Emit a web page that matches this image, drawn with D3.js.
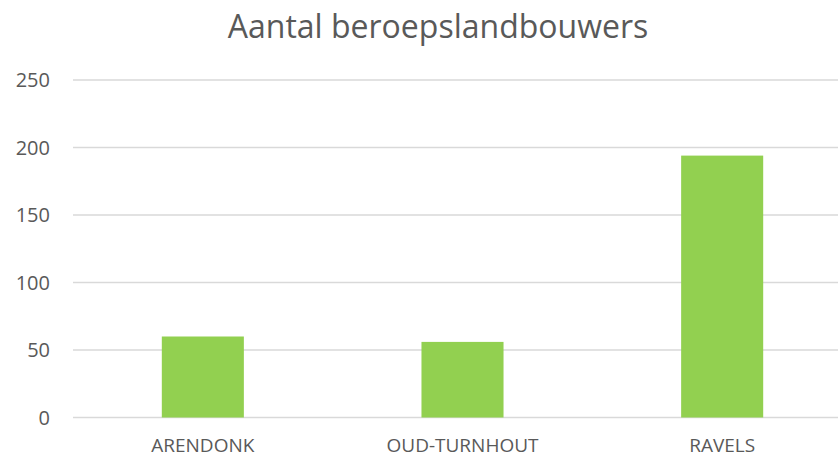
<!DOCTYPE html>
<html>
<head>
<meta charset="utf-8">
<script src="https://cdn.jsdelivr.net/npm/d3@7"></script>
<style>
  body { margin: 0; background: #fff; }
  text { font-family: "Open Sans", "Liberation Sans", sans-serif; fill: #595959; }
</style>
</head>
<body>
<div id="chart"></div>
<script>
const categories = ["ARENDONK", "OUD-TURNHOUT", "RAVELS"];
const values = [60, 56, 194];
const yTicks = [0, 50, 100, 150, 200, 250];
const title = "Aantal beroepslandbouwers";

const W = 838, H = 459;
const margin = { top: 80, left: 73, bottom: 41 };

const svg = d3.select("#chart")
  .append("svg")
  .attr("width", W)
  .attr("height", H);

const x = d3.scaleBand()
  .domain(categories)
  .range([margin.left, 852])
  .paddingInner(0.684)
  .paddingOuter(0.342);

const y = d3.scaleLinear()
  .domain([0, 250])
  .range([H - margin.bottom - 0.5, margin.top]);

// gridlines
svg.append("g")
  .selectAll("line")
  .data(yTicks)
  .join("line")
  .attr("x1", margin.left)
  .attr("x2", W)
  .attr("y1", d => y(d))
  .attr("y2", d => y(d))
  .attr("stroke", "#d9d9d9")
  .attr("stroke-width", 1.3);

// y labels
svg.append("g")
  .selectAll("text")
  .data(yTicks)
  .join("text")
  .attr("x", 50)
  .attr("y", d => y(d))
  .attr("dy", "0.35em")
  .attr("text-anchor", "end")
  .attr("font-size", 20)
  .text(d => d);

// bars
svg.append("g")
  .selectAll("rect")
  .data(values)
  .join("rect")
  .attr("x", (d, i) => x(categories[i]))
  .attr("width", x.bandwidth())
  .attr("y", d => y(d))
  .attr("height", d => y(0) - y(d))
  .attr("fill", "#92d050");

// category labels
svg.append("g")
  .selectAll("text")
  .data(categories)
  .join("text")
  .attr("x", d => x(d) + x.bandwidth() / 2)
  .attr("y", 452)
  .attr("text-anchor", "middle")
  .attr("font-size", 19)
  .text(d => d);

svg.append("text")
  .attr("x", 438)
  .attr("y", 38)
  .attr("text-anchor", "middle")
  .attr("font-size", 32)
  .text(title);
</script>
</body>
</html>
